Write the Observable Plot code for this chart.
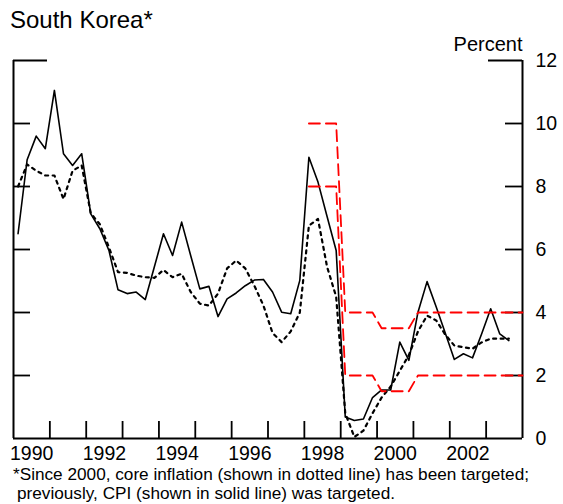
<!DOCTYPE html>
<html><head><meta charset="utf-8">
<script src="https://cdn.jsdelivr.net/npm/d3@7"></script>
<script src="https://cdn.jsdelivr.net/npm/@observablehq/plot@0.6"></script>
<style>
body{margin:0;background:#fff;font-family:"Liberation Sans",Arial,sans-serif;}
#wrap{position:relative;width:563px;height:504px;overflow:hidden;background:#fff;}
#title{position:absolute;left:10px;top:8px;font-size:24px;line-height:24px;color:#000;}
#chart{position:absolute;left:0;top:40px;}
.note{position:absolute;font-size:17.2px;line-height:19px;color:#000;white-space:nowrap;}
#note1{left:13px;top:465px;}
#note2{left:17px;top:484px;}
</style></head><body>
<div id="wrap">
<div id="title">South Korea*</div>
<div id="chart"></div>
<div class="note" id="note1">*Since 2000, core inflation (shown in dotted line) has been targeted;</div>
<div class="note" id="note2">previously, CPI (shown in solid line) was targeted.</div>
</div>
<script>
// Quarterly data starting 1990 Q1
const firstYear = 1990;
const cpi = [6.5, 8.85, 9.6, 9.2, 11.05, 9.04, 8.67, 9.04, 7.13, 6.66, 5.97, 4.72, 4.6, 4.65, 4.41, 5.45,
  6.5, 5.81, 6.87, 5.8, 4.75, 4.83, 3.87, 4.43, 4.62, 4.85, 5.03, 5.05, 4.65, 4.01, 3.96, 5.02,
  8.93, 8.14, 7.05, 5.97, 0.68, 0.57, 0.62, 1.3, 1.54, 1.54, 3.06, 2.48, 4.01, 4.98, 4.18, 3.35,
  2.51, 2.69, 2.56, 3.32, 4.12, 3.32, 3.11];
const core = [8.0, 8.7, 8.5, 8.35, 8.35, 7.6, 8.5, 8.67, 7.15, 6.8, 6.07, 5.28, 5.26, 5.17, 5.12, 5.1,
  5.35, 5.12, 5.23, 4.65, 4.28, 4.22, 4.6, 5.4, 5.65, 5.4, 4.85, 4.22, 3.35, 3.06, 3.4, 4.0,
  6.76, 6.97, 5.45, 4.5, 0.8, 0.05, 0.25, 0.8, 1.3, 1.65, 2.15, 2.65, 3.4, 3.9, 3.75, 3.3,
  2.95, 2.9, 2.85, 3.05, 3.17, 3.17, 3.17];
const targetYears = [1998.125, 1998.875, 1999.125, 1999.875, 2000.125, 2000.875, 2001.125, 2004];
const targetUpper = [10, 10, 4, 4, 3.5, 3.5, 4, 4];
const targetLower = [8, 8, 2, 2, 1.5, 1.5, 2, 2];
const yLabels = [0, 2, 4, 6, 8, 10, 12];
const yInnerTicks = [2, 4, 6, 8, 10];
const yTopTick = [12];
const xTickYears = [1991, 1992, 1993, 1994, 1995, 1996, 1997, 1998, 1999, 2000, 2001, 2002, 2003];
const xLabelYears = [1990, 1992, 1994, 1996, 1998, 2000, 2002];
const xDomain = [1990, 2004];

const qx = i => firstYear + (i + 0.5) / 4;
const cpiData = cpi.map((v, i) => ({x: qx(i), y: v}));
const coreData = core.map((v, i) => ({x: qx(i), y: v}));
const upperData = targetYears.map((t, i) => ({x: t, y: targetUpper[i]}));
const lowerData = targetYears.map((t, i) => ({x: t, y: targetLower[i]}));

const W = 563, H = 430, mT = 20, mB = 32, mL = 13, mR = 41;
const fw = W - mL - mR, fh = H - mT - mB;
const tick = 17;

const plot = Plot.plot({
  width: W, height: H,
  marginTop: mT, marginBottom: mB, marginLeft: mL, marginRight: mR,
  style: {fontFamily: "'Liberation Sans', Arial, sans-serif", fontSize: "19.5px", color: "#000", background: "transparent", overflow: "visible"},
  x: {domain: xDomain},
  y: {domain: [0, 12]},
  marks: [
    Plot.line(cpiData, {x: "x", y: "y", stroke: "#000", strokeWidth: 1.6}),
    Plot.line(coreData, {x: "x", y: "y", stroke: "#000", strokeWidth: 2.2, strokeDasharray: "3,4.5"}),
    Plot.ruleX(xTickYears, {x: d => d, insetTop: fh - tick, stroke: "#000", strokeWidth: 1.8}),
    Plot.ruleY(yInnerTicks, {y: d => d, insetRight: fw - tick, stroke: "#000", strokeWidth: 1.8}),
    Plot.ruleY(yInnerTicks, {y: d => d, insetLeft: fw - tick, stroke: "#000", strokeWidth: 1.8}),
    Plot.ruleY(yTopTick, {y: d => d, insetRight: fw - 2 * tick, stroke: "#000", strokeWidth: 1.8}),
    Plot.ruleY(yTopTick, {y: d => d, insetLeft: fw - 2 * tick, stroke: "#000", strokeWidth: 1.8}),
    Plot.ruleX(xDomain, {x: d => d, stroke: "#000", strokeWidth: 2}),
    Plot.ruleY([0], {y: d => d, stroke: "#000", strokeWidth: 2}),
    Plot.line(upperData, {x: "x", y: "y", stroke: "#ff0000", strokeWidth: 1.8, strokeDasharray: "11,6"}),
    Plot.line(lowerData, {x: "x", y: "y", stroke: "#ff0000", strokeWidth: 1.8, strokeDasharray: "11,6"}),
    Plot.axisY({anchor: "right", ticks: yLabels, tickSize: 0, tickPadding: 13, label: null, fontSize: 19.5}),
    Plot.axisX({ticks: xLabelYears.map(y => y + 0.5), tickSize: 0, tickPadding: 8, label: null, fontSize: 19.5,
      tickFormat: d => String(Math.round(d - 0.5))}),
    Plot.text(["Percent"], {frameAnchor: "top-right", textAnchor: "end", lineAnchor: "bottom", dy: -10, fontSize: 20})
  ]
});
document.getElementById("chart").appendChild(plot);
</script>
</body></html>
